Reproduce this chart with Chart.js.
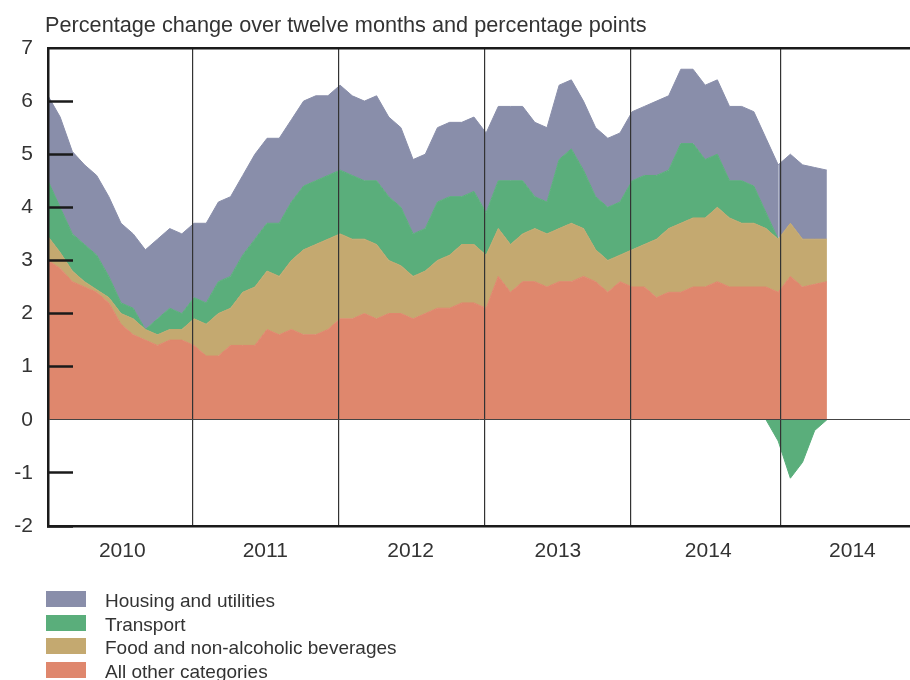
<!DOCTYPE html>
<html>
<head>
<meta charset="utf-8">
<script src="https://cdn.jsdelivr.net/npm/chart.js@4.4.1/dist/chart.umd.min.js"></script>
<style>
  html, body { margin:0; padding:0; background:#fff; }
  #wrap { position:relative; width:910px; height:680px; overflow:hidden;
          font-family:"Liberation Sans", Arial, sans-serif; color:#333; }
  #chart { position:absolute; left:0; top:0; }
  #title { position:absolute; left:45px; top:14px; font-size:21.7px; line-height:22px; white-space:nowrap; }
  #legend { position:absolute; left:46px; top:591px; }
  .row { position:relative; height:23.5px; }
  .box { position:absolute; left:0; top:0; width:40px; height:16px; }
  .lbl { position:absolute; left:59px; top:0; font-size:19px; line-height:19px; white-space:nowrap; }
</style>
</head>
<body>
<div id="wrap">
  <canvas id="chart" width="910" height="680"></canvas>
  <div id="title">Percentage change over twelve months and percentage points</div>
  <div id="legend"></div>
</div>
<script>
// ── Data (percentage points, monthly Jan 2010 – May 2015) ────────────────
const months = [
  "2010-01","2010-02","2010-03","2010-04","2010-05","2010-06","2010-07","2010-08","2010-09","2010-10","2010-11","2010-12",
  "2011-01","2011-02","2011-03","2011-04","2011-05","2011-06","2011-07","2011-08","2011-09","2011-10","2011-11","2011-12",
  "2012-01","2012-02","2012-03","2012-04","2012-05","2012-06","2012-07","2012-08","2012-09","2012-10","2012-11","2012-12",
  "2013-01","2013-02","2013-03","2013-04","2013-05","2013-06","2013-07","2013-08","2013-09","2013-10","2013-11","2013-12",
  "2014-01","2014-02","2014-03","2014-04","2014-05","2014-06","2014-07","2014-08","2014-09","2014-10","2014-11","2014-12",
  "2015-01","2015-02","2015-03","2015-04","2015-05"
];
const otherCats = [3.0,2.85,2.6,2.5,2.4,2.2,1.8,1.6,1.5,1.4,1.5,1.5,
                   1.4,1.2,1.2,1.4,1.4,1.4,1.7,1.6,1.7,1.6,1.6,1.7,
                   1.9,1.9,2.0,1.9,2.0,2.0,1.9,2.0,2.1,2.1,2.2,2.2,
                   2.1,2.7,2.4,2.6,2.6,2.5,2.6,2.6,2.7,2.6,2.4,2.6,
                   2.5,2.5,2.3,2.4,2.4,2.5,2.5,2.6,2.5,2.5,2.5,2.5,
                   2.4,2.7,2.5,2.55,2.6];
const food      = [0.45,0.3,0.2,0.1,0.05,0.1,0.2,0.3,0.2,0.2,0.2,0.2,
                   0.5,0.6,0.8,0.7,1.0,1.1,1.1,1.1,1.3,1.6,1.7,1.7,
                   1.6,1.5,1.4,1.4,1.0,0.9,0.8,0.8,0.9,1.0,1.1,1.1,
                   1.0,0.9,0.9,0.9,1.0,1.0,1.0,1.1,0.9,0.6,0.6,0.5,
                   0.7,0.8,1.1,1.2,1.3,1.3,1.3,1.4,1.3,1.2,1.2,1.1,
                   1.0,1.0,0.9,0.85,0.8];
const transport = [1.05,0.85,0.7,0.7,0.65,0.4,0.2,0.2,0.0,0.3,0.4,0.3,
                   0.4,0.4,0.6,0.6,0.7,0.9,0.9,1.0,1.1,1.2,1.2,1.2,
                   1.2,1.2,1.1,1.2,1.2,1.1,0.8,0.8,1.1,1.1,0.9,1.0,
                   0.8,0.9,1.2,1.0,0.6,0.6,1.3,1.4,1.1,1.0,1.0,1.0,
                   1.3,1.3,1.2,1.1,1.5,1.4,1.1,1.0,0.7,0.8,0.7,0.3,
                   -0.4,-1.1,-0.8,-0.2,0.0];
const housing   = [1.6,1.7,1.55,1.5,1.5,1.5,1.5,1.4,1.5,1.5,1.5,1.5,
                   1.4,1.5,1.5,1.5,1.5,1.6,1.6,1.6,1.55,1.6,1.6,1.5,
                   1.6,1.5,1.5,1.6,1.5,1.5,1.4,1.4,1.4,1.4,1.4,1.4,
                   1.5,1.4,1.4,1.4,1.4,1.4,1.4,1.3,1.3,1.3,1.3,1.3,
                   1.3,1.3,1.4,1.4,1.4,1.4,1.4,1.4,1.4,1.4,1.4,1.4,
                   1.4,1.3,1.4,1.35,1.3];

// x ticks (month index units): year separators and year labels
const yearLines  = [11.9, 23.85, 35.85, 47.85, 60.2];
const labelPos   = [6.1, 17.85, 29.8, 41.9, 54.25, 66.1];
const yearLabels = ["2010","2011","2012","2013","2014","2014"];
const X_MAX = 70.83;

const COLORS = { housing:"#898eaa", transport:"#5aae7b", food:"#c4a970", other:"#df876d" };
const FONT = "'Liberation Sans', Arial, sans-serif";

// ── Build datasets ────────────────────────────────────────────────────────
const toPts = arr => arr.map((v, i) => ({ x: i, y: v }));
const transportPos = transport.map(v => Math.max(v, 0));
const transportNeg = transport.map(v => Math.min(v, 0));

function area(label, data, color, fill, extra) {
    return Object.assign({
        label, data: toPts(data), fill,
        backgroundColor: color, borderColor: color, borderWidth: 1,
        pointRadius: 0, tension: 0,
        segment: { borderColor: c => (data[c.p0DataIndex] === 0 && data[c.p1DataIndex] === 0) ? "transparent" : color },
    }, extra || {});
}

const datasets = [
    area("All other categories",            otherCats,    COLORS.other,     "origin"),
    area("Food and non-alcoholic beverages", food,         COLORS.food,      "-1"),
    area("Transport",                        transportPos, COLORS.transport, "-1"),
    area("Housing and utilities",            housing,      COLORS.housing,   "-1"),
    area("Transport (negative)",             transportNeg, COLORS.transport, "origin", { stack: "neg" }),
];

const xTicks = yearLines.concat(labelPos).sort((a, b) => a - b);

new Chart(document.getElementById("chart").getContext("2d"), {
    type: "line",
    data: { datasets },
    options: {
        responsive: false, animation: false,
        layout: { padding: { top: 48, left: 0, right: 0, bottom: 0 } },
        plugins: { legend: { display: false }, tooltip: { enabled: false } },
        scales: {
            x: {
                type: "linear", position: "bottom", min: 0, max: X_MAX,
                afterBuildTicks: s => { s.ticks = xTicks.map(v => ({ value: v })); },
                afterFit: s => { s.height = 154; },
                grid: {
                    z: 1, drawTicks: false, lineWidth: 1.2,
                    color: ctx => yearLines.includes(ctx.tick && ctx.tick.value) ? "#333" : "transparent",
                },
                border: { display: true, color: "#1a1a1a", width: 2.5, z: 1 },
                ticks: {
                    autoSkip: false, maxRotation: 0, padding: 13, color: "#333",
                    font: { family: FONT, size: 21 },
                    callback: v => { const k = labelPos.indexOf(v); return k >= 0 ? yearLabels[k] : ""; },
                },
            },
            xTop: {
                type: "linear", position: "top", min: 0, max: X_MAX,
                afterFit: s => { s.height = 0; },
                grid: { display: false }, ticks: { display: false },
                border: { display: true, color: "#1a1a1a", width: 2.5, z: 1 },
            },
            y: {
                stacked: true, min: -2, max: 7,
                // inward tick marks: negative tick length, label padding compensates
                afterFit: s => { s.width = 48; s.paddingTop = 10; s.paddingBottom = 10; },
                ticks: { stepSize: 1, padding: 40, color: "#333", font: { family: FONT, size: 21 } },
                grid: {
                    z: 1, drawTicks: true, tickLength: -25, tickWidth: 2.5, lineWidth: 1,
                    tickColor: ctx => (ctx.tick.value === 0 || ctx.tick.value === 7) ? "transparent" : "#1a1a1a",
                    color: ctx => ctx.tick.value === 0 ? "#444" : "transparent",
                },
                border: { display: true, color: "#1a1a1a", width: 2.5, z: 1 },
            },
        },
    },
});

// ── Legend ────────────────────────────────────────────────────────────────
const legendItems = [
    ["Housing and utilities", COLORS.housing],
    ["Transport", COLORS.transport],
    ["Food and non-alcoholic beverages", COLORS.food],
    ["All other categories", COLORS.other],
];
document.getElementById("legend").innerHTML = legendItems.map(([t, c]) =>
    `<div class="row"><div class="box" style="background:${c}"></div><div class="lbl">${t}</div></div>`
).join("");
</script>
</body>
</html>
